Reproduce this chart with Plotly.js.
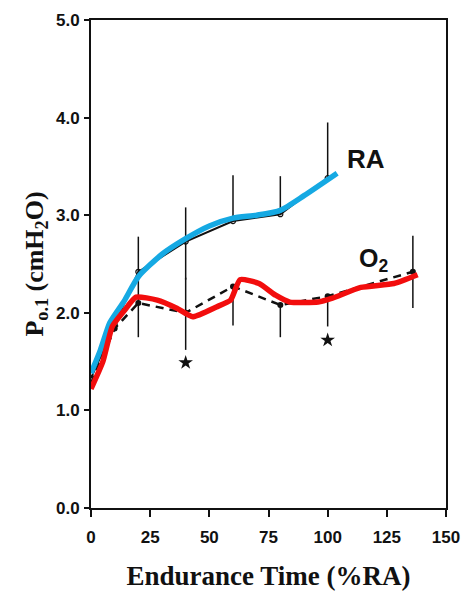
<!DOCTYPE html>
<html>
<head>
<meta charset="utf-8">
<script src="https://cdn.plot.ly/plotly-3.0.1.min.js"></script>
<style>html,body{margin:0;padding:0;background:#fff;}#chart{width:469px;height:594px;}</style>
</head>
<body>
<div id="chart"></div>
<script>
// Measured data (black, from the original figure)
const raX = [0, 10, 20, 40, 60, 80, 100];
const raY = [1.33, 1.88, 2.42, 2.73, 2.94, 3.01, 3.38];
const raErrUp = [0, 0, 0.36, 0.35, 0.47, 0.39, 0.57];
const raErrDown = [0, 0, 0.32, 0.39, 0, 0, 0];

const o2X = [0, 10, 20, 40, 60, 80, 100, 136];
const o2Y = [1.28, 1.84, 2.10, 2.00, 2.27, 2.08, 2.17, 2.42];
const o2ErrUp = [0, 0, 0, 0.36, 0, 0, 0, 0.37];
const o2ErrDown = [0, 0, 0.35, 0.38, 0.40, 0.33, 0.31, 0.37];

// Traced overlay curves (blue = RA, red = O2)
const blueX = [0, 4, 8, 14, 20, 30, 40, 50, 60, 70, 80, 90, 104];
const blueY = [1.38, 1.62, 1.90, 2.12, 2.37, 2.60, 2.76, 2.89, 2.97, 3.00, 3.05, 3.20, 3.43];
const redX = [0, 5, 9, 14, 19, 28, 36, 43, 53, 59, 63, 71, 78, 84, 96, 102, 114, 128, 138];
const redY = [1.22, 1.50, 1.86, 2.02, 2.16, 2.13, 2.05, 1.96, 2.06, 2.13, 2.34, 2.30, 2.18, 2.11, 2.11, 2.15, 2.26, 2.30, 2.39];

// Significance markers
const starX = [40, 100];
const starY = [1.49, 1.72];

// Axis ticks
const xTicks = [0, 25, 50, 75, 100, 125, 150];
const yTicks = [0, 1, 2, 3, 4, 5];
const yTickText = ['0.0', '1.0', '2.0', '3.0', '4.0', '5.0'];

const traces = [
  {
    x: raX, y: raY, type: 'scatter', mode: 'lines+markers',
    line: {color: '#111', width: 2},
    marker: {symbol: 'circle-open', size: 5, color: '#111', line: {width: 1.2}},
    error_y: {type: 'data', symmetric: false, array: raErrUp, arrayminus: raErrDown, color: '#111', thickness: 1.5, width: 0},
    hoverinfo: 'skip'
  },
  {
    x: o2X, y: o2Y, type: 'scatter', mode: 'lines+markers',
    line: {color: '#111', width: 2.5, dash: '8px,6px'},
    marker: {symbol: 'circle', size: 6, color: '#111'},
    error_y: {type: 'data', symmetric: false, array: o2ErrUp, arrayminus: o2ErrDown, color: '#111', thickness: 1.5, width: 0},
    hoverinfo: 'skip'
  },
  {
    x: starX, y: starY, type: 'scatter', mode: 'markers',
    marker: {symbol: 'star', size: 11, color: '#111'},
    hoverinfo: 'skip'
  },
  {
    x: blueX, y: blueY, type: 'scatter', mode: 'lines',
    line: {color: '#15A9E3', width: 5.5, shape: 'spline', smoothing: 0.6},
    hoverinfo: 'skip'
  },
  {
    x: redX, y: redY, type: 'scatter', mode: 'lines',
    line: {color: '#F20D0D', width: 5.5, shape: 'spline', smoothing: 0.5},
    hoverinfo: 'skip'
  }
];

const tickFont = {family: 'Liberation Sans, Arial, sans-serif', size: 17, color: '#111', weight: 'bold'};

const layout = {
  width: 469, height: 594,
  margin: {l: 91, r: 23, t: 20, b: 86},
  paper_bgcolor: '#fff', plot_bgcolor: '#fff',
  showlegend: false,
  xaxis: {
    range: [0, 150], tickvals: xTicks, ticktext: xTicks.map(String),
    ticks: 'outside', ticklen: 7, tickwidth: 2, tickcolor: '#111',
    showline: true, linecolor: '#111', linewidth: 2, mirror: true,
    showgrid: false, zeroline: false, tickfont: tickFont, ticklabelstandoff: 6,
    title: {text: 'Endurance Time (%RA)', font: {family: 'Liberation Serif, Times New Roman, serif', size: 27, color: '#111', weight: 'bold'}, standoff: 20}
  },
  yaxis: {
    range: [0, 5], tickvals: yTicks, ticktext: yTickText,
    ticks: 'outside', ticklen: 5, tickwidth: 2, tickcolor: '#111',
    showline: true, linecolor: '#111', linewidth: 2, mirror: true,
    showgrid: false, zeroline: false, tickfont: tickFont, ticklabelstandoff: 1,
    title: {text: 'P<sub>o.1</sub> (cmH<sub>2</sub>O)', font: {family: 'Liberation Serif, Times New Roman, serif', size: 26, color: '#111', weight: 'bold'}, standoff: 5}
  },
  annotations: [
    {x: 116, y: 3.58, xref: 'x', yref: 'y', text: 'RA', showarrow: false, xanchor: 'center', yanchor: 'middle',
     font: {family: 'Liberation Sans, Arial, sans-serif', size: 26, color: '#111', weight: 'bold'}},
    {x: 112.5, y: 2.54, xref: 'x', yref: 'y', text: 'O<sub>2</sub>', showarrow: false, xanchor: 'left', yanchor: 'middle',
     font: {family: 'Liberation Sans, Arial, sans-serif', size: 25, color: '#111', weight: 'bold'}}
  ]
};

Plotly.newPlot('chart', traces, layout, {staticPlot: true, displayModeBar: false});
</script>
</body>
</html>
